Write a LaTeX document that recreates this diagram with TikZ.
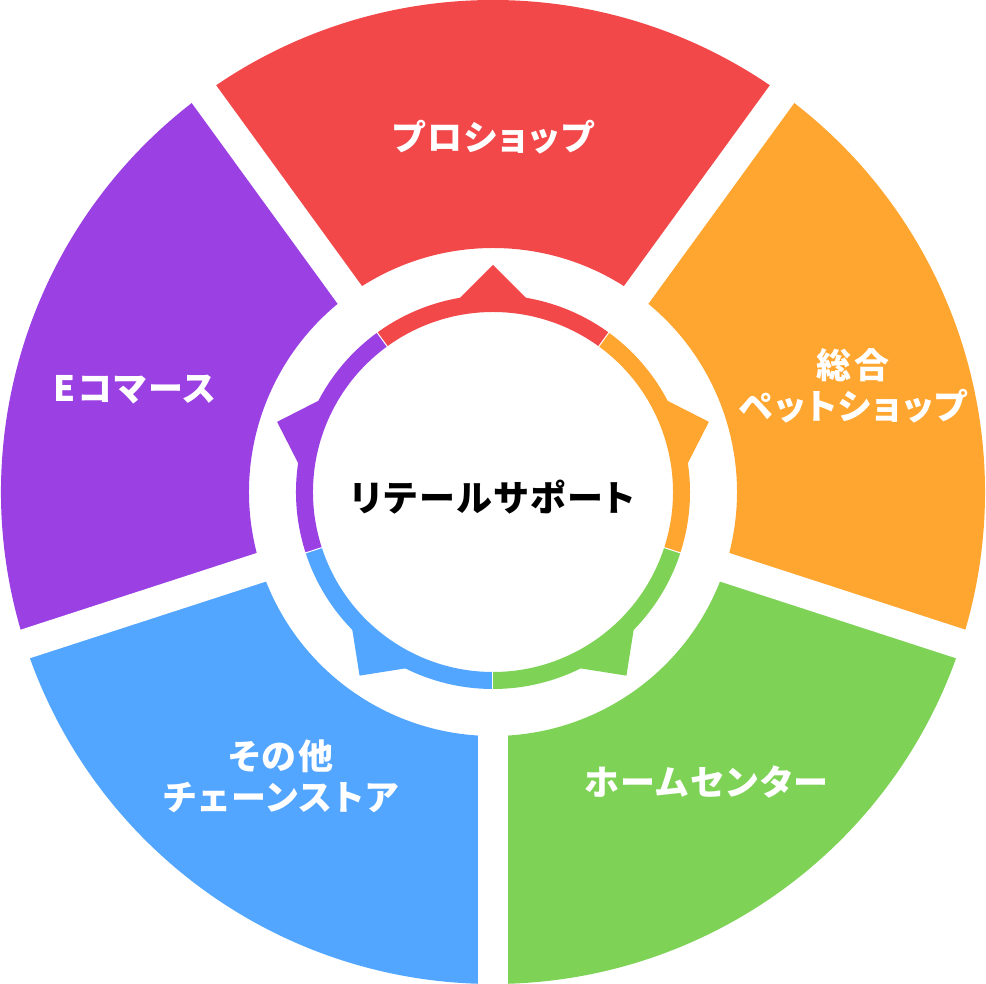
\documentclass[tikz,border=0pt]{standalone}
\usepackage{fontspec}
\newfontfamily\jpfont{Noto Sans CJK JP}[RawFeature=+palt, LetterSpace=6]
\usetikzlibrary{calc}
\definecolor{proRed}{HTML}{F24849}
\definecolor{petOrange}{HTML}{FFA630}
\definecolor{homeGreen}{HTML}{7ED357}
\definecolor{chainBlue}{HTML}{52A6FF}
\definecolor{ecPurple}{HTML}{9B40E3}
\begin{document}
\begin{tikzpicture}[x=1pt, y=1pt,
    label/.style = {font=\jpfont\bfseries\fontsize{35}{41}\selectfont, text=white, align=center},
    gap/.style = {draw=white, line width=30pt},
    sep/.style = {draw=white, line width=1pt}]
    % frame
    \path[use as bounding box](-493,-492)rectangle(493,492);
    \coordinate(O)at(0,0);
    % outer segments
    \path[fill = proRed](54:244)arc[start angle=54, end angle=126, radius=244]--(126:492)arc[start angle=126, end angle=54, radius=492]--cycle;
    \path[fill = ecPurple](126:244)arc[start angle=126, end angle=198, radius=244]--(198:492)arc[start angle=198, end angle=126, radius=492]--cycle;
    \path[fill = chainBlue](198:244)arc[start angle=198, end angle=270, radius=244]--(270:492)arc[start angle=270, end angle=198, radius=492]--cycle;
    \path[fill = homeGreen](270:244)arc[start angle=270, end angle=342, radius=244]--(342:492)arc[start angle=342, end angle=270, radius=492]--cycle;
    \path[fill = petOrange](-18:244)arc[start angle=-18, end angle=54, radius=244]--(54:492)arc[start angle=54, end angle=-18, radius=492]--cycle;
    % gaps
    \path[gap](O)to(54:500);
    \path[gap](O)to(126:500);
    \path[gap](O)to(198:500);
    \path[gap](O)to(270:500);
    \path[gap](O)to(342:500);
    % inner ring
    \path[fill = proRed](54:180)arc[start angle=54, end angle=126, radius=180]--(126:197)arc[start angle=126, end angle=54, radius=197]--cycle;
    \path[fill = ecPurple](126:180)arc[start angle=126, end angle=198, radius=180]--(198:197)arc[start angle=198, end angle=126, radius=197]--cycle;
    \path[fill = chainBlue](198:180)arc[start angle=198, end angle=270, radius=180]--(270:197)arc[start angle=270, end angle=198, radius=197]--cycle;
    \path[fill = homeGreen](270:180)arc[start angle=270, end angle=342, radius=180]--(342:197)arc[start angle=342, end angle=270, radius=197]--cycle;
    \path[fill = petOrange](-18:180)arc[start angle=-18, end angle=54, radius=180]--(54:197)arc[start angle=54, end angle=-18, radius=197]--cycle;
    % pointers
    \path[fill = proRed, rotate=90](185,42)--(227,0)--(185,-42)--cycle;
    \path[fill = ecPurple, rotate=162](185,42)--(227,0)--(185,-42)--cycle;
    \path[fill = chainBlue, rotate=234](185,42)--(227,0)--(185,-42)--cycle;
    \path[fill = homeGreen, rotate=306](185,42)--(227,0)--(185,-42)--cycle;
    \path[fill = petOrange, rotate=18](185,42)--(227,0)--(185,-42)--cycle;
    % separators
    \path[sep](54:178)to(54:199);
    \path[sep](126:178)to(126:199);
    \path[sep](198:178)to(198:199);
    \path[sep](270:178)to(270:199);
    \path[sep](342:178)to(342:199);
    % labels
    \node[label](pro)at(0,355){プロショップ};
    \node[label](pet)at(360,106){総合\\ペットショップ};
    \node[label](home)at(213,-290){ホームセンター};
    \node[label](chain)at(-212,-284){その他\\チェーンストア};
    \node[label](ec)at(-358,102){Eコマース};
    \node[label, text=black, font=\jpfont\bfseries\fontsize{36}{41}\selectfont](retail)at(0,-5){リテールサポート};
\end{tikzpicture}
\end{document}
